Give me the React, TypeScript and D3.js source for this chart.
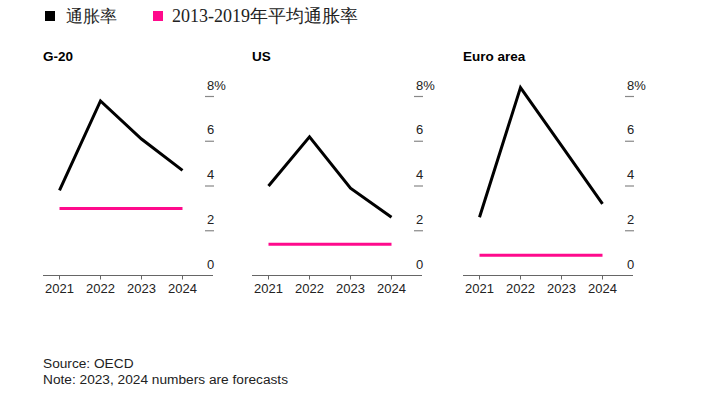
import React from "react";
import * as d3 from "d3";

const years = ["2021", "2022", "2023", "2024"];
const panels = ["G-20", "US", "Euro area"];
const inflation = [
  [3.8, 7.8, 6.1, 4.7],
  [4.0, 6.2, 3.9, 2.6],
  [2.6, 8.4, 5.8, 3.2],
];
const avg2013 = [3.0, 1.4, 0.9];
const yTicks = [0, 2, 4, 6, 8];
const legendLabels = ["通胀率", "2013-2019年平均通胀率"];
const colors = ["#000000", "#ff0a8c"];

const panelLeft = [43, 252, 463];
const panelW = 170;

export default function App() {
  const y = d3.scaleLinear().domain([0, 8]).range([275.5, 96.5]);
  const sans = "'Liberation Sans', Arial, sans-serif";
  return (
    <svg width={720} height={406} style={{ position: "absolute", left: 0, top: 0, background: "#fff" }}>
      {/* legend */}
      <rect x={45} y={11} width={10} height={10} fill={colors[0]} />
      <text x={66} y={22} fontFamily="'Liberation Serif', serif" fontSize={17} fill="#222">{legendLabels[0]}</text>
      <rect x={153} y={11} width={10} height={10} fill={colors[1]} />
      <text x={172} y={22} fontFamily="'Liberation Serif', serif" fontSize={18} fill="#222">{legendLabels[1]}</text>

      {panels.map((name, i) => {
        const x0 = panelLeft[i];
        const x = d3.scalePoint<string>().domain(years).range([x0 + 16.5, x0 + 139.5]);
        const line = d3
          .line<number>()
          .x((_, j) => x(years[j]) as number)
          .y((d) => y(d));
        return (
          <g key={name}>
            <text x={x0} y={61} fontFamily={sans} fontWeight="bold" fontSize={13.5} fill="#000">{name}</text>
            {yTicks.map((t) => (
              <g key={t}>
                {t > 0 && (
                  <line x1={x0 + 162} x2={x0 + 171} y1={y(t)} y2={y(t)} stroke="#888" strokeWidth={1.2} />
                )}
                <text x={x0 + 164} y={y(t) - 7} fontFamily={sans} fontSize={13} fill="#222">
                  {t === 8 ? "8%" : String(t)}
                </text>
              </g>
            ))}
            <line x1={x0} x2={x0 + panelW} y1={y(0)} y2={y(0)} stroke="#666" strokeWidth={1} />
            {years.map((yr) => (
              <g key={yr}>
                <line x1={x(yr)} x2={x(yr)} y1={y(0)} y2={y(0) + 4} stroke="#666" strokeWidth={1} />
                <text x={x(yr)} y={293} textAnchor="middle" fontFamily={sans} fontSize={13} fill="#222">{yr}</text>
              </g>
            ))}
            <line
              x1={x(years[0])}
              x2={x(years[years.length - 1])}
              y1={y(avg2013[i])}
              y2={y(avg2013[i])}
              stroke={colors[1]}
              strokeWidth={3}
            />
            <path d={line(inflation[i]) || ""} fill="none" stroke={colors[0]} strokeWidth={3} strokeLinejoin="miter" />
          </g>
        );
      })}

      <text x={43} y={368} fontFamily={sans} fontSize={13.7} fill="#222">Source: OECD</text>
      <text x={43} y={384} fontFamily={sans} fontSize={13.7} fill="#222">Note: 2023, 2024 numbers are forecasts</text>
    </svg>
  );
}
